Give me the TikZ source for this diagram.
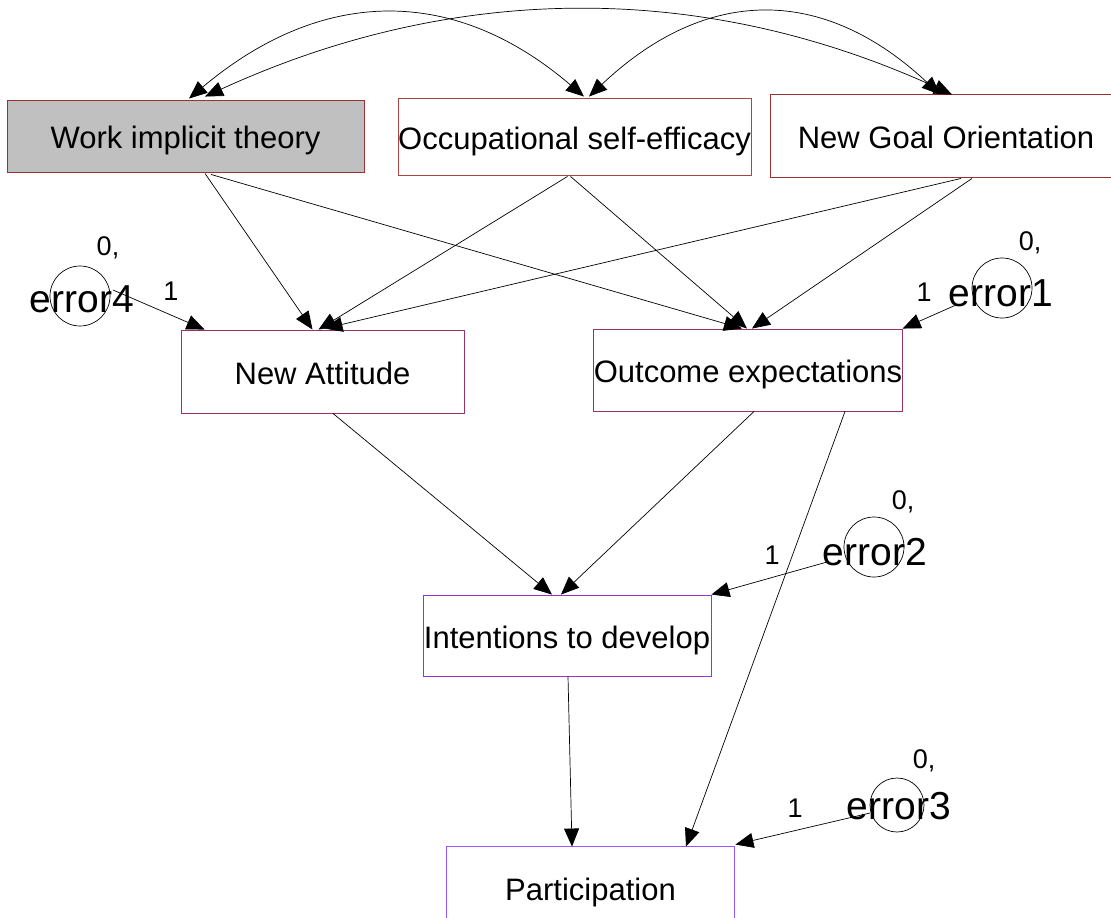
\documentclass[tikz,border=0pt]{standalone}
\usepackage{fontspec}
\setmainfont{Liberation Sans}
\usetikzlibrary{arrows.meta,calc}
\definecolor{brdA}{HTML}{993333}
\definecolor{brdA2}{HTML}{AA4444}
\definecolor{brdB}{HTML}{993366}
\definecolor{brdC}{HTML}{9933CC}
\definecolor{brdD}{HTML}{9955FF}
\definecolor{boxgray}{HTML}{C0C0C0}
\begin{document}
\begin{tikzpicture}[x=1pt,y=-1pt,
  box/.style={draw, rectangle, inner sep=0pt, line width=0.9pt, text height=25pt, text depth=0pt, font=\fontsize{31}{36}\selectfont},
  errc/.style={draw, circle, minimum size=60pt, inner sep=0pt, line width=0.7pt},
  errt/.style={inner sep=0pt, font=\fontsize{39}{44}\selectfont},
  lab/.style={inner sep=0pt, font=\fontsize{27}{32}\selectfont},
  arr/.style={line width=0.7pt, -{Triangle[length=18pt,width=15pt]}},
  cov/.style={line width=0.7pt, {Triangle[length=18pt,width=15pt]}-{Triangle[length=18pt,width=15pt]}}]
\path[use as bounding box, clip] (0,0) rectangle (1111,918);
\fill[white] (0,0) rectangle (1111,918);

% boxes
\node[box, draw=brdA, fill=boxgray, minimum width=357pt, minimum height=72pt] (work) at (185.5,136) {Work implicit theory};
\node[box, draw=brdA2, minimum width=353pt, minimum height=77pt] (occ) at (574.5,136.5) {Occupational self-efficacy};
\node[box, draw=none, minimum width=350pt, minimum height=82pt] (goal) at (946,136) {New Goal Orientation};
\draw[brdA, line width=0.9pt] (goal.north east) -- (goal.north west) -- (goal.south west) -- (goal.south east);
\node[box, draw=brdB, minimum width=283pt, minimum height=83pt] (att) at (322.5,371.5) {New Attitude};
\node[box, draw=brdB, minimum width=288pt, minimum height=82pt] (out) at (748,370) {Outcome expectations};
\node[box, draw=brdC, minimum width=288pt, minimum height=81pt] (int) at (567,635.5) {Intentions to develop};
\node[box, draw=none, minimum width=287pt, minimum height=81pt] (par) at (590.5,887.5) {Participation};
\draw[brdD, line width=0.9pt] (par.south west) -- (par.north west) -- (par.north east) -- (par.south east);

% error terms
\node[errc] (e4) at (80,296) {};
\node[errt] (e4t) at (82,299) {error4};
\node[lab] (e4z) at (108,248) {0,};
\node[lab] (e4o) at (171,291) {1};

\node[errc] (e1) at (1002,288) {};
\node[errt] (e1t) at (1001,293) {error1};
\node[lab] (e1z) at (1030,243) {0,};
\node[lab] (e1o) at (924,292) {1};

\node[errc] (e2) at (874,547) {};
\node[errt] (e2t) at (875,552) {error2};
\node[lab] (e2z) at (903,502) {0,};
\node[lab] (e2o) at (772,555) {1};

\node[errc, minimum size=54pt] (e3) at (897,805) {};
\node[errt] (e3t) at (899,806) {error3};
\node[lab] (e3z) at (924,761) {0,};
\node[lab] (e3o) at (795,808) {1};

% covariances
\draw[cov] ($(work.north)+(3.5,-1)$) .. controls (323,-14) and (455,-14) .. ($(occ.north)+(9.5,-1)$);
\draw[cov] ($(occ.north)+(14.5,-1)$) .. controls (706,-14) and (823,-15) .. ($(goal.north)+(-6,0)$);
\draw[cov] ($(work.north)+(19.5,-3)$) .. controls (455,-18) and (704,-19) .. ($(goal.north)+(6,0)$);

% paths
\draw[arr] ($(work.south)+(19.5,1)$) -- ($(att.north)+(-10,0)$);
\draw[arr] ($(work.south)+(25.5,2)$) -- ($(out.north)+(-6,0)$);
\draw[arr] ($(occ.south)+(-7,1)$) -- ($(att.north)+(-4,0)$);
\draw[arr] ($(occ.south)+(-4,1)$) -- ($(out.north)+(-1,0)$);
\draw[arr] ($(goal.south)+(15,1)$) -- ($(att.north)+(2,-1)$);
\draw[arr] ($(goal.south)+(26,1)$) -- ($(out.north)+(4,0)$);

\draw[arr] ($(e4.center)+(33,-6)$) -- ($(att.north west)+(24,0)$);
\draw[arr] ($(e1.center)+(-46,17)$) -- (out.north east);

\draw[arr] ($(att.south)+(10.5,0)$) -- ($(int.north)+(-15,0)$);
\draw[arr] ($(out.south)+(6,0)$) -- ($(int.north)+(-6,0)$);
\draw[arr] ($(e2.center)+(-47,15)$) -- (int.north east);

\draw[arr] ($(int.south)+(1,0)$) -- ($(par.north)+(-18.5,0)$);
\draw[arr] ($(out.south)+(97,0)$) -- ($(par.north)+(95.5,0)$);
\draw[arr] ($(e3.center)+(-27,8)$) -- ($(par.north east)+(1,-2)$);
\end{tikzpicture}
\end{document}
